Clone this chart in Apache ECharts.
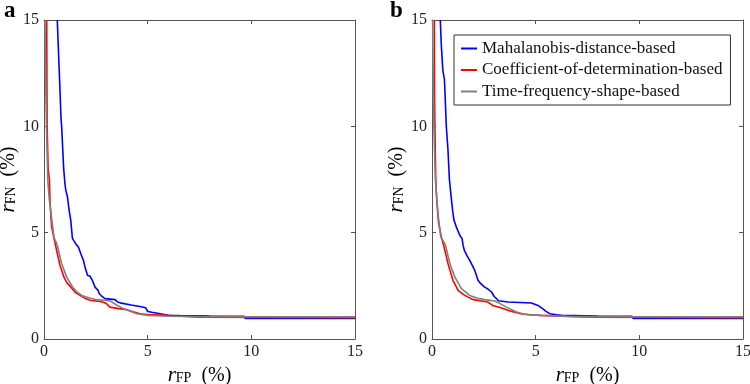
<!DOCTYPE html>
<html><head><meta charset="utf-8">
<script src="https://cdn.jsdelivr.net/npm/echarts@6/dist/echarts.min.js"></script>
<style>html,body{margin:0;padding:0;background:#fff}#c{width:750px;height:384px}</style>
</head><body><div id="c"></div>
<script>
var seriesNames = ['Mahalanobis-distance-based','Coefficient-of-determination-based','Time-frequency-shape-based'];
var tickValues = [0,5,10,15];
var panelLabels = ['a','b'];

var aBlue = [[0.64,15],[0.74,12.5],[0.82,10.4],[0.85,10],[0.95,8],[1.01,7.3],[1.05,7.0],[1.13,6.69],[1.22,6.0],[1.29,5.59],[1.37,4.73],[1.41,4.65],[1.55,4.45],[1.66,4.33],[1.78,4.0],[1.90,3.70],[2.0,3.3],[2.10,3.0],[2.22,2.95],[2.33,2.76],[2.46,2.44],[2.60,2.30],[2.67,2.13],[2.80,2.0],[2.94,1.90],[3.0,1.86],[3.43,1.85],[3.55,1.74],[3.67,1.70],[4.2,1.60],[4.63,1.53],[4.9,1.47],[5.0,1.30],[5.2,1.26],[5.6,1.19],[6.0,1.12],[6.56,1.10],[8.0,1.08],[9.65,1.07],[9.7,0.97],[15,0.97]];
var aRed = [[0.13,15],[0.15,10],[0.2,8],[0.26,7.5],[0.29,6.5],[0.33,5.8],[0.37,5.27],[0.48,4.74],[0.64,4.03],[0.77,3.47],[0.96,2.92],[1.1,2.65],[1.29,2.45],[1.5,2.2],[1.74,2.05],[2.0,1.9],[2.22,1.82],[2.70,1.76],[2.9,1.72],[3.02,1.66],[3.18,1.50],[3.6,1.43],[3.99,1.38],[4.3,1.28],[4.63,1.19],[5.0,1.15],[5.92,1.11],[6.5,1.08],[7.5,1.03],[15,1.0]];
var aGray = [[0.05,15],[0.08,12],[0.12,10],[0.18,7.5],[0.25,6.6],[0.34,5.9],[0.48,4.8],[0.56,4.6],[0.64,4.41],[0.85,3.55],[1.09,2.92],[1.38,2.45],[1.6,2.2],[1.82,2.05],[2.2,1.93],[2.54,1.85],[2.9,1.82],[3.18,1.79],[3.5,1.60],[3.82,1.43],[4.1,1.33],[4.47,1.19],[5.0,1.11],[6.0,1.07],[7.5,1.05],[15,1.04]];

var bBlue = [[0.40,15],[0.45,13.8],[0.52,12.66],[0.60,12.2],[0.63,11.5],[0.69,10],[0.77,8.9],[0.84,7.5],[0.89,7.0],[0.94,6.53],[1.0,6.0],[1.06,5.59],[1.2,5.2],[1.34,4.88],[1.45,4.72],[1.50,4.4],[1.56,4.17],[1.70,3.9],[1.82,3.70],[1.95,3.45],[2.06,3.23],[2.22,2.76],[2.35,2.6],[2.54,2.44],[2.70,2.35],[2.87,2.21],[3.0,2.0],[3.11,1.90],[3.2,1.80],[3.67,1.74],[4.80,1.69],[5.11,1.58],[5.35,1.42],[5.5,1.30],[5.68,1.19],[6.0,1.14],[6.25,1.11],[8.0,1.08],[9.65,1.07],[9.7,0.97],[15,0.97]];
var bRed = [[0.11,15],[0.12,12],[0.14,10],[0.18,7.5],[0.23,6.5],[0.32,5.43],[0.45,4.8],[0.58,4.33],[0.77,3.55],[1.01,2.76],[1.26,2.29],[1.5,2.1],[1.74,1.97],[2.0,1.85],[2.38,1.79],[2.69,1.74],[2.93,1.58],[3.32,1.47],[3.80,1.31],[4.28,1.19],[4.7,1.14],[5.25,1.11],[6.0,1.08],[6.89,1.05],[8,1.02],[15,1.0]];
var bGray = [[0.03,15],[0.06,12],[0.09,10],[0.16,7.5],[0.29,5.9],[0.42,4.8],[0.55,4.6],[0.65,4.41],[0.86,3.55],[1.10,2.92],[1.42,2.37],[1.82,2.05],[2.2,1.92],[2.54,1.85],[3.03,1.79],[3.3,1.65],[3.59,1.50],[4.07,1.27],[4.47,1.16],[5.25,1.11],[6.5,1.07],[8,1.05],[15,1.04]];

var colors = ['#0000ff','#ff0000','#808080'];
var FONT = 'Liberation Serif';
var axisColor = '#555';
var richName = {
  r:{fontFamily:FONT,fontStyle:'italic',fontSize:21,color:'#000'},
  s:{fontFamily:FONT,fontSize:14,color:'#000',padding:[6,0,0,0]},
  p:{fontFamily:FONT,fontSize:20,color:'#000'}
};
function xAx(gi, top){
  return {
    type:'value', gridIndex:gi, min:tickValues[0], max:tickValues[3], interval:5,
    position: top ? 'top':'bottom',
    name: top ? '' : '{r|r}{s|FP}{p|  (%)}',
    nameLocation:'middle', nameGap:24,
    nameTextStyle:{rich:richName},
    axisLine:{show:true,onZero:false,lineStyle:{color:axisColor,width:1}},
    axisTick:{show:true,inside:true,length:4,lineStyle:{color:axisColor}},
    axisLabel:{show:!top,fontFamily:FONT,fontSize:16,color:'#222',margin:5},
    splitLine:{show:false}
  };
}
function yAx(gi, right){
  return {
    type:'value', gridIndex:gi, min:tickValues[0], max:tickValues[3], interval:5,
    position: right ? 'right':'left',
    name: right ? '' : '{r|r}{s|FN}{p|  (%)}',
    nameLocation:'middle', nameGap:22,
    nameTextStyle:{rich:richName},
    axisLine:{show:true,onZero:false,lineStyle:{color:axisColor,width:1}},
    axisTick:{show:true,inside:true,length:4,lineStyle:{color:axisColor}},
    axisLabel:{show:!right,fontFamily:FONT,fontSize:16,color:'#222',margin:5},
    splitLine:{show:false}
  };
}
function ser(name, data, gi, ci){
  return {name:name,type:'line',data:data,xAxisIndex:gi*2,yAxisIndex:gi*2,
    symbol:'none',showSymbol:false,lineStyle:{width:1.6,color:colors[ci]},itemStyle:{color:colors[ci]},
    z:2+ci,animation:false};
}
var chart = echarts.init(document.getElementById('c'));
chart.setOption({
  animation:false,
  backgroundColor:'#fff',
  grid:[{left:44,top:20,right:395,bottom:45,containLabel:false,outerBoundsMode:'none'},
        {left:432,top:20,right:7,bottom:45,containLabel:false,outerBoundsMode:'none'}],
  xAxis:[xAx(0,false),xAx(0,true),xAx(1,false),xAx(1,true)],
  yAxis:[yAx(0,false),yAx(0,true),yAx(1,false),yAx(1,true)],
  legend:{data:seriesNames,orient:'vertical',left:454,top:35,
    icon:'rect',itemWidth:16,itemHeight:2,itemGap:4.5,padding:[5,8,5,7],
    borderColor:'#333',borderWidth:1,backgroundColor:'#fff',
    textStyle:{fontFamily:FONT,fontSize:17,lineHeight:15,color:'#111'}},
  graphic:[
    {type:'text',left:4,top:0,style:{text:panelLabels[0],font:'bold 23px "Liberation Serif"',fill:'#000'}},
    {type:'text',left:390,top:0,style:{text:panelLabels[1],font:'bold 23px "Liberation Serif"',fill:'#000'}}
  ],
  series:[
    ser(seriesNames[0],aBlue,0,0),ser(seriesNames[1],aRed,0,1),ser(seriesNames[2],aGray,0,2),
    ser(seriesNames[0],bBlue,1,0),ser(seriesNames[1],bRed,1,1),ser(seriesNames[2],bGray,1,2)
  ]
});
</script></body></html>
